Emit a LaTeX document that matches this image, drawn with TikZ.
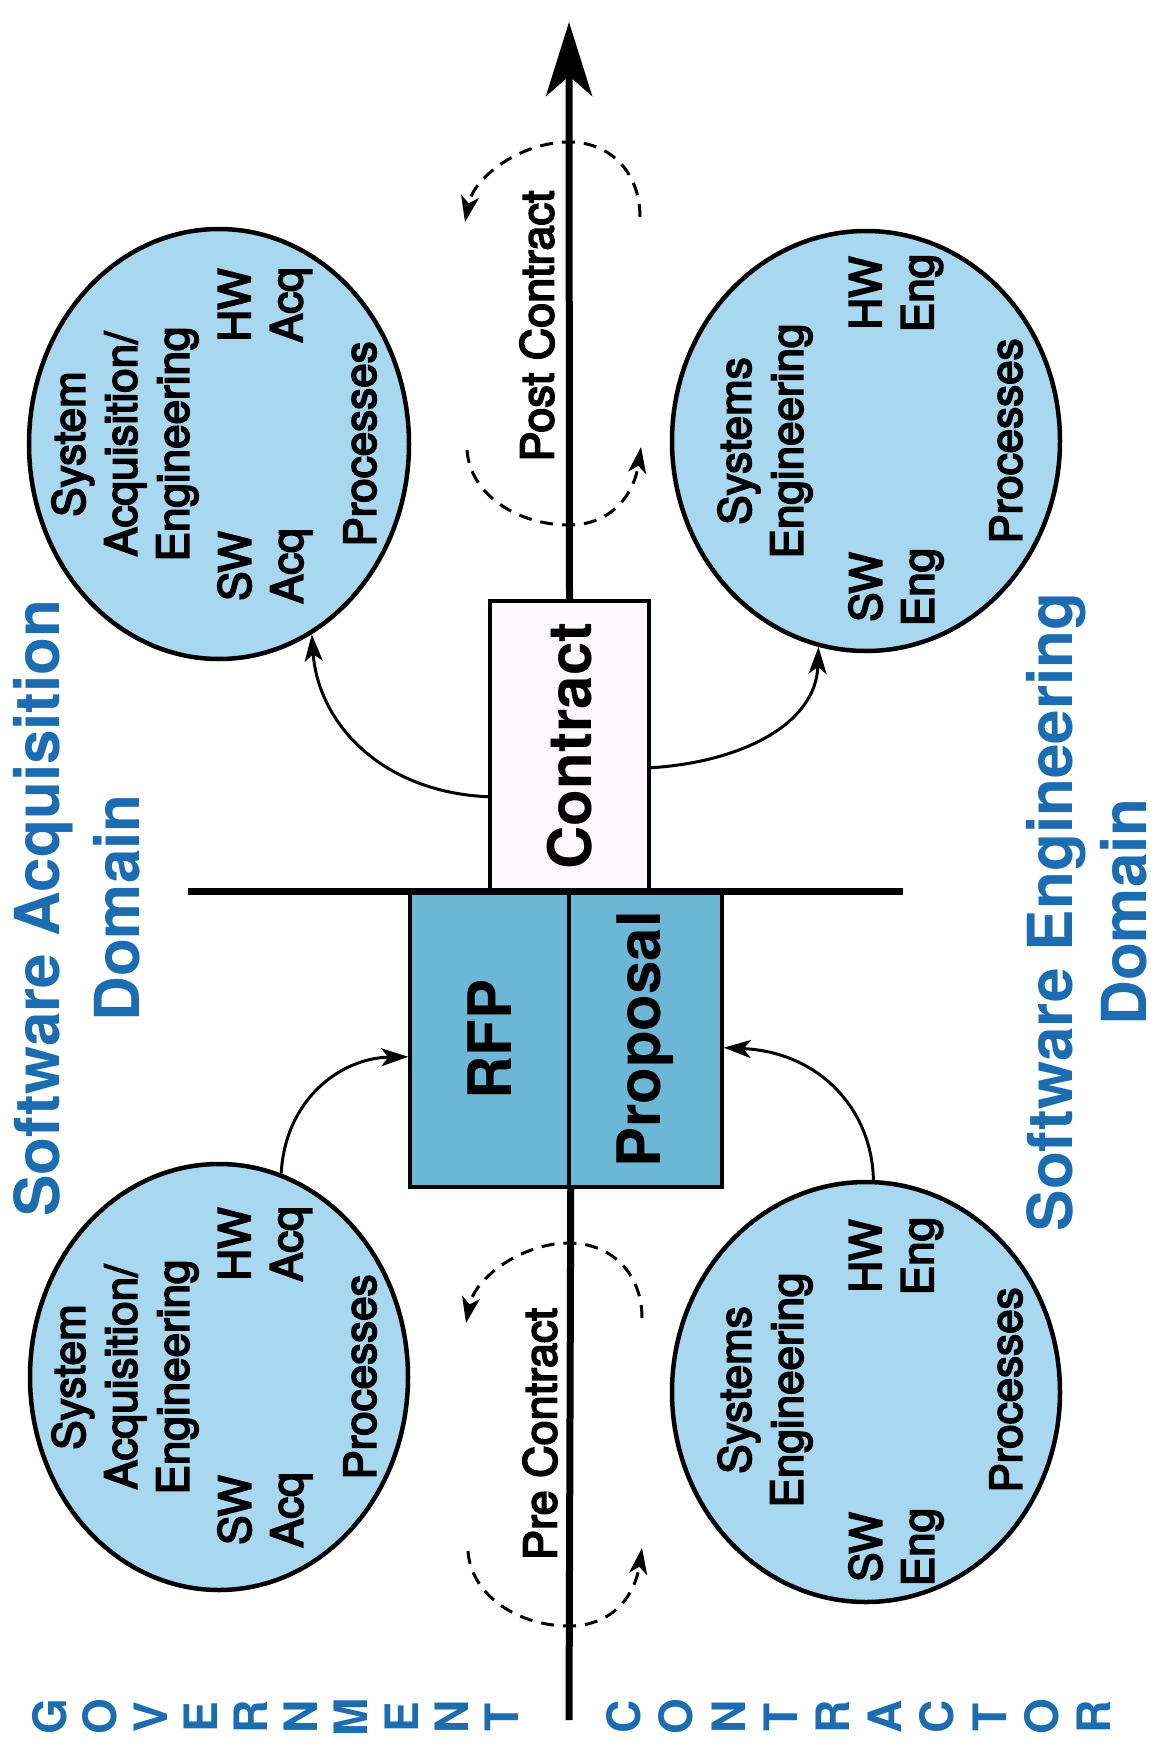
\documentclass[tikz,border=0pt]{standalone}
\usepackage{fontspec}
\setmainfont{TeX Gyre Heros}
\newfontfamily\medfont{TeX Gyre Heros}[FakeBold=4]
\usepackage{graphicx}
\usetikzlibrary{shapes.geometric,arrows.meta}
\definecolor{circfill}{RGB}{168,215,240}
\definecolor{boxfill}{RGB}{108,182,214}
\definecolor{domblue}{RGB}{28,108,178}
\definecolor{paperpink}{RGB}{253,248,252}
\tikzset{
 procellipse/.style={ellipse, draw=black, line width=4.5pt, fill=circfill, inner sep=0pt},
 ctext/.style={rotate=90, align=center, font=\medfont\fontsize{44}{52}\selectfont, inner sep=0pt},
 bigbox/.style={rectangle, draw=black, line width=3.5pt, inner sep=0pt, font=\bfseries\fontsize{60}{66}\selectfont},
 domainlbl/.style={rotate=90, align=center, text=domblue, font=\bfseries\fontsize{62}{80}\selectfont, inner sep=0pt},
 sideletter/.style={rotate=90, text=domblue, font=\bfseries\fontsize{46}{46}\selectfont, inner sep=0pt},
 phaselbl/.style={rotate=90, font=\medfont\fontsize{45}{50}\selectfont, inner sep=0pt},
 flow/.style={line width=3pt, -{Stealth[length=27pt,width=18pt,inset=7pt]}},
 loopdash/.style={line width=3pt, dash pattern=on 13pt off 9pt, -{Stealth[length=26pt,width=18pt,inset=7pt]}},
}
\begin{document}
\begin{tikzpicture}[x=1pt,y=-1pt]
\useasboundingbox (0,0) rectangle (1157,1742);

% process ellipses
\node[procellipse, minimum width=380pt, minimum height=430pt] (tl) at (219,444) {};
\node[procellipse, minimum width=378pt, minimum height=426pt] (bl) at (219,1377) {};
\node[procellipse, minimum width=388pt, minimum height=420pt] (tr) at (866,441) {};
\node[procellipse, minimum width=388pt, minimum height=420pt] (br) at (866,1392) {};

% texts in the government circles
\node[ctext] (tlt) at ([shift={(-94,0)}]tl.center) {System\\Acquisition/\\Engineering};
\node[ctext] (tlsw) at ([shift={(46,122)}]tl.center) {SW\\Acq};
\node[ctext] (tlhw) at ([shift={(46,-139)}]tl.center) {HW\\Acq};
\node[ctext] (tlp) at ([shift={(141,0)}]tl.center) {Processes};
\node[ctext] (blt) at ([shift={(-94,0)}]bl.center) {System\\Acquisition/\\Engineering};
\node[ctext] (blsw) at ([shift={(46,133)}]bl.center) {SW\\Acq};
\node[ctext] (blhw) at ([shift={(46,-133)}]bl.center) {HW\\Acq};
\node[ctext] (blp) at ([shift={(141,0)}]bl.center) {Processes};

% texts in the contractor circles
\node[ctext] (trt) at ([shift={(-101,0)}]tr.center) {Systems\\Engineering};
\node[ctext] (trsw) at ([shift={(30,146)}]tr.center) {SW\\Eng};
\node[ctext] (trhw) at ([shift={(30,-148)}]tr.center) {HW\\Eng};
\node[ctext] (trp) at ([shift={(140,0)}]tr.center) {Processes};
\node[ctext] (brt) at ([shift={(-101,-2)}]br.center) {Systems\\Engineering};
\node[ctext] (brsw) at ([shift={(30,155)}]br.center) {SW\\Eng};
\node[ctext] (brhw) at ([shift={(30,-136)}]br.center) {HW\\Eng};
\node[ctext] (brp) at ([shift={(140,-2)}]br.center) {Processes};

% boxes
\node[bigbox, fill=paperpink, minimum width=159pt, minimum height=290pt] (contract) at (569.5,746) {\rotatebox{90}{Contract}};
\node[bigbox, fill=boxfill, minimum width=159pt, minimum height=295pt] (rfp) at (489.5,1039.5) {\rotatebox{90}{RFP}};
\node[bigbox, fill=boxfill, minimum width=153pt, minimum height=295pt] (proposal) at (645.5,1039.5) {\rotatebox{90}{Proposal}};

% time axis
\coordinate (axisbot) at (569,1720);
\coordinate (axistop) at (569,22);
\draw[line width=7pt] (axisbot) -- (rfp.south east);
\draw[line width=7pt, -{Stealth[length=74pt,width=46pt,inset=20pt]}] (contract.north) -- (axistop);

% horizontal divider
\coordinate (hl) at (188,891);
\coordinate (hr) at (903,891);
\draw[line width=7pt] (hl) -- (hr);

% flows
\draw[flow] (contract.212) .. controls (380,792) and (318,722) .. (tl.-64);
\draw[flow] (contract.-15) .. controls (742,762) and (816,724) .. (tr.-103);
\draw[flow] (bl.73) .. controls (285,1100) and (340,1058) .. (rfp.192);
\draw[flow] (br.88) .. controls (872,1110) and (820,1052) .. (proposal.-6);

% phase labels
\node[phaselbl] (post) at (537,326) {Post Contract};
\node[phaselbl] (pre) at (540,1434) {Pre Contract};

% post-contract cycle
\coordinate (postR) at (640,217);
\coordinate (postTop) at (569,142);
\coordinate (postL) at (465,222);
\coordinate (postBL) at (467,450);
\coordinate (postBot) at (569,525);
\coordinate (postBR) at (641,447);
\draw[loopdash] (postR) .. controls (640,172) and (610,142) .. (postTop) .. controls (522,142) and (474,176) .. (postL);
\draw[loopdash] (postBL) .. controls (470,495) and (518,525) .. (postBot) .. controls (612,525) and (634,494) .. (postBR);

% pre-contract cycle
\coordinate (preR) at (642,1318);
\coordinate (preTop) at (569,1243);
\coordinate (preL) at (466,1323);
\coordinate (preBL) at (468,1551);
\coordinate (preBot) at (569,1626);
\coordinate (preBR) at (642,1548);
\draw[loopdash] (preR) .. controls (642,1273) and (611,1243) .. (preTop) .. controls (523,1243) and (475,1277) .. (preL);
\draw[loopdash] (preBL) .. controls (471,1596) and (519,1626) .. (preBot) .. controls (613,1626) and (635,1595) .. (preBR);

% domain labels
\node[domainlbl] (acqdom) at (77,908) {Software Acquisition\\Domain};
\node[domainlbl, font=\bfseries\fontsize{62}{74}\selectfont] (engdom) at (1087,912) {Software Engineering\\Domain};

% side words
\foreach \ch [count=\i] in {G,O,V,E,R,N,M,E,N,T}
  \node[sideletter] (gov\i) at ({50+50.2*(\i-1)},1717) {\ch};
\foreach \ch [count=\i] in {C,O,N,T,R,A,C,T,O,R}
  \node[sideletter] (con\i) at ({624+52.2*(\i-1)},1717) {\ch};
\end{tikzpicture}
\end{document}
